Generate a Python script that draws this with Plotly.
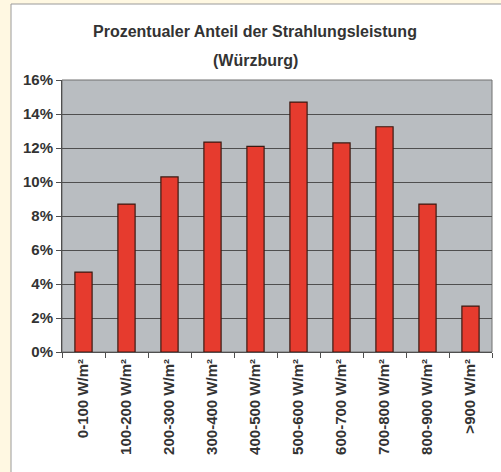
import plotly.graph_objects as go

categories = ["0-100 W/m²", "100-200 W/m²", "200-300 W/m²", "300-400 W/m²", "400-500 W/m²",
              "500-600 W/m²", "600-700 W/m²", "700-800 W/m²", "800-900 W/m²", ">900 W/m²"]
values = [4.7, 8.7, 10.3, 12.35, 12.1, 14.7, 12.3, 13.25, 8.7, 2.7]
y_ticks = [0, 2, 4, 6, 8, 10, 12, 14, 16]
y_tick_labels = [f"{v}%" for v in y_ticks]
title_lines = ["Prozentualer Anteil der Strahlungsleistung", "(Würzburg)"]

W, H = 501, 472
L, R, T, B = 62, 9, 80, 120
pw, ph = W - L - R, H - T - B

def px_x(p):
    return (p - L) / pw

def px_y(p):
    return (H - B - p) / ph

FONT = "Liberation Sans, Arial"

fig = go.Figure()
fig.add_trace(go.Bar(
    x=categories, y=values,
    marker=dict(color="#E63B2E", line=dict(color="#3a1a12", width=1.2)),
    width=0.4,
))

fig.update_layout(
    width=W, height=H,
    margin=dict(l=L, r=R, t=T, b=B),
    paper_bgcolor="#FFF8E2",
    plot_bgcolor="#B9BDC1",
    showlegend=False,
    shapes=[
        dict(type="rect", xref="paper", yref="paper", layer="below",
             x0=px_x(11), x1=px_x(800), y0=px_y(900), y1=px_y(4),
             fillcolor="white", line=dict(color="#9a9a9a", width=1)),
        dict(type="rect", xref="paper", yref="paper", layer="below",
             x0=0, x1=1, y0=0, y1=1,
             fillcolor="#B9BDC1", line=dict(color="#707070", width=1)),
    ],
    annotations=[
        dict(text=f"<b>{title_lines[0]}</b>", xref="paper", yref="paper",
             x=px_x(255), y=px_y(32), xanchor="center", yanchor="middle",
             showarrow=False, font=dict(family=FONT, size=16, color="#333333")),
        dict(text=f"<b>{title_lines[1]}</b>", xref="paper", yref="paper",
             x=px_x(255), y=px_y(60), xanchor="center", yanchor="middle",
             showarrow=False, font=dict(family=FONT, size=16, color="#333333")),
    ],
)

fig.update_yaxes(
    range=[0, 16], tickvals=y_ticks, ticktext=y_tick_labels,
    showgrid=True, gridcolor="#4f4f4f", gridwidth=1,
    showline=True, linecolor="#4f4f4f", linewidth=1,
    ticks="outside", ticklen=5, tickcolor="#4f4f4f",
    tickfont=dict(family=FONT, size=15, color="#333333", weight="bold"),
    zeroline=False,
)
fig.update_xaxes(
    tickangle=-90, tickson="boundaries",
    showline=True, linecolor="#4f4f4f", linewidth=1,
    ticks="outside", ticklen=5, tickcolor="#4f4f4f",
    tickfont=dict(family=FONT, size=15, color="#333333", weight="bold"),
    showgrid=False,
)

fig.write_html(
    "out.html",
    config={"displayModeBar": False},
    post_script="document.body.style.margin='0';document.body.style.overflow='hidden';",
)
